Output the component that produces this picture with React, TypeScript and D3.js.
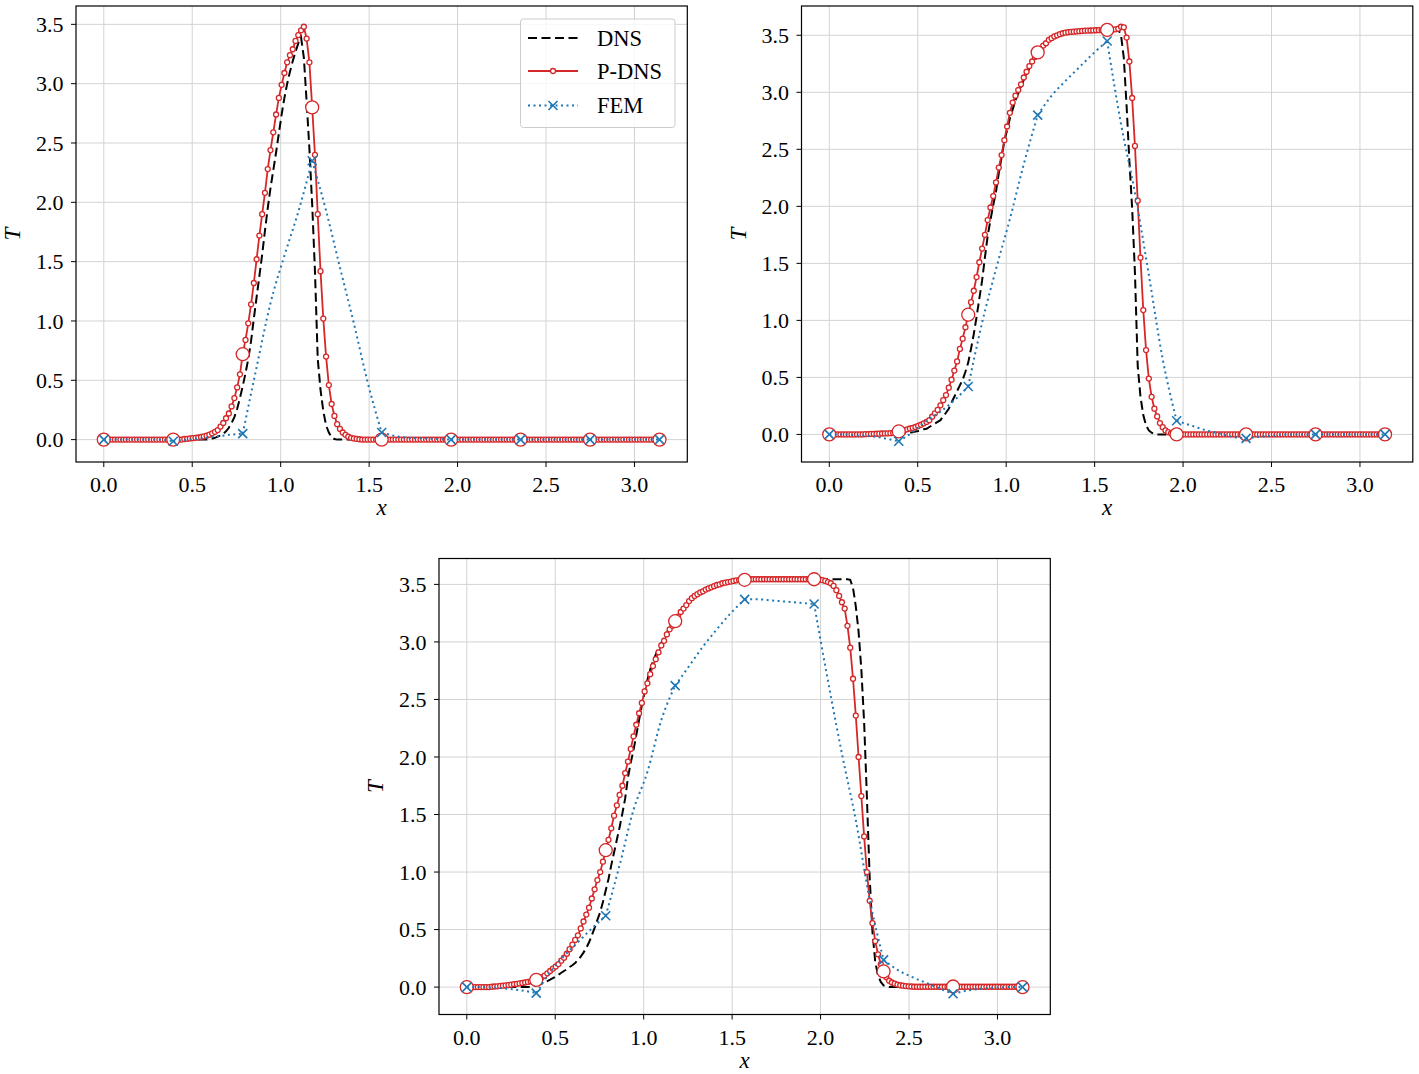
import React from "react";
import * as d3 from "d3";

// ---------- sampling grids (uniform solver grids on [0, pi]) ----------
const FINE_STEPS = 200;
const fineX: number[] = d3.range(FINE_STEPS + 1).map((i) => (i * Math.PI) / FINE_STEPS);
const femX: number[] = d3.range(41).map((j) => (j * Math.PI) / 40);
const nodeX: number[] = d3.range(9).map((k) => (k * Math.PI) / 8);

const xTicks = [0, 0.5, 1.0, 1.5, 2.0, 2.5, 3.0];
const yTicks = [0, 0.5, 1.0, 1.5, 2.0, 2.5, 3.0, 3.5];
const legendLabels = ["DNS", "P-DNS", "FEM"];

// ---------- panel 1 ----------
const p1Dns = [
  0,0,0,0,0,0,0,0,0,0,0,0,0,0,0,0,0,0,0,0,
  0,0,0,0,0,0,0,0,0,0,0,0,0,0,0,0,0,0,0.005,0.01,
  0.015,0.025,0.035,0.05,0.07,0.10,0.14,0.19,0.26,0.35,0.45,0.56,0.68,0.83,1.02,1.20,1.38,1.56,1.76,1.95,
  2.12,2.27,2.42,2.58,2.74,2.88,3.00,3.10,3.19,3.27,3.34,3.39,3.22,2.85,2.45,1.98,1.42,0.68,0.42,0.24,
  0.12,0.06,0.02,0.005,0,0,0,0,0,0,0,0,0,0,0,0,0,0,0,0,
  0,0,0,0,0,0,0,0,0,0,0,0,0,0,0,0,0,0,0,0,
  0,0,0,0,0,0,0,0,0,0,0,0,0,0,0,0,0,0,0,0,
  0,0,0,0,0,0,0,0,0,0,0,0,0,0,0,0,0,0,0,0,
  0,0,0,0,0,0,0,0,0,0,0,0,0,0,0,0,0,0,0,0,
  0,0,0,0,0,0,0,0,0,0,0,0,0,0,0,0,0,0,0,0,
  0,
];
const p1Pdns = [
  0,0,0,0,0,0,0,0,0,0,0,0,0,0,0,0,0,0,0,0,
  0,0,0,0,0,0,0,0,0,0.005,0.007,0.01,0.012,0.015,0.018,0.022,0.027,0.033,0.042,0.053,
  0.066,0.08,0.11,0.14,0.18,0.22,0.28,0.35,0.44,0.55,0.72,0.84,0.98,1.14,1.32,1.52,1.72,1.90,2.08,2.28,
  2.44,2.59,2.74,2.88,2.99,3.09,3.18,3.24,3.29,3.36,3.41,3.45,3.48,3.38,3.18,2.80,2.40,1.90,1.42,1.02,
  0.70,0.46,0.30,0.20,0.13,0.09,0.06,0.04,0.025,0.015,0.01,0.006,0.003,0,0,0,0,0,0,0,
  0,0,0,0,0,0,0,0,0,0,0,0,0,0,0,0,0,0,0,0,
  0,0,0,0,0,0,0,0,0,0,0,0,0,0,0,0,0,0,0,0,
  0,0,0,0,0,0,0,0,0,0,0,0,0,0,0,0,0,0,0,0,
  0,0,0,0,0,0,0,0,0,0,0,0,0,0,0,0,0,0,0,0,
  0,0,0,0,0,0,0,0,0,0,0,0,0,0,0,0,0,0,0,0,
  0,
];
const p1Fem = [
  0,0,0,0,0,
  -0.014,0,0.01,0.025,0.04,
  0.05,0.61,1.15,1.55,1.92,
  2.35,1.93,1.45,0.98,0.48,
  0.06,0.03,0.015,0.01,0.005,
  0,0,0,0,0,
  0,0,0,0,0,
  0,0,0,0,0,
  0,
];
const p1Nodes = [0, 0, 0.72, 2.80, 0, 0, 0, 0, 0];

// ---------- panel 2 ----------
const p2Dns = [
  0,0,0,0,0,0,0,0,0,0,0,0,0,0,0,0,0,0,0,0,
  0,0,0,0,0,0.005,0.008,0.01,0.013,0.016,0.02,0.025,0.03,0.038,0.045,0.05,0.065,0.08,0.095,0.11,
  0.125,0.16,0.19,0.225,0.28,0.33,0.38,0.43,0.48,0.55,0.63,0.75,0.88,1.03,1.19,1.35,1.55,1.74,1.88,2.01,
  2.13,2.29,2.43,2.57,2.67,2.77,2.85,2.93,2.99,3.05,3.11,3.16,3.21,3.26,3.30,3.34,3.38,3.41,3.43,3.45,
  3.47,3.485,3.50,3.51,3.518,3.523,3.527,3.53,3.532,3.534,3.536,3.538,3.54,3.541,3.542,3.543,3.544,3.545,3.546,3.546,
  3.547,3.548,3.549,3.55,3.55,3.50,3.30,2.88,2.40,1.98,1.42,0.60,0.33,0.17,0.08,0.035,0.015,0.005,0,0,
  0,0,0,0,0,0,0,0,0,0,0,0,0,0,0,0,0,0,0,0,
  0,0,0,0,0,0,0,0,0,0,0,0,0,0,0,0,0,0,0,0,
  0,0,0,0,0,0,0,0,0,0,0,0,0,0,0,0,0,0,0,0,
  0,0,0,0,0,0,0,0,0,0,0,0,0,0,0,0,0,0,0,0,
  0,
];
const p2Pdns = [
  0,0,0,0,0,0,0,0,0,0,0,0,0,0.002,0.003,0.004,0.005,0.006,0.007,0.008,
  0.009,0.01,0.011,0.013,0.018,0.026,0.03,0.037,0.045,0.052,0.058,0.065,0.075,0.085,0.097,0.11,0.125,0.155,0.185,0.215,
  0.255,0.30,0.345,0.41,0.48,0.56,0.64,0.75,0.84,0.94,1.05,1.16,1.26,1.38,1.51,1.63,1.75,1.88,1.99,2.09,
  2.21,2.34,2.45,2.58,2.70,2.82,2.91,2.97,3.02,3.07,3.13,3.18,3.23,3.27,3.31,3.35,3.38,3.41,3.43,3.46,
  3.475,3.49,3.50,3.51,3.518,3.523,3.527,3.53,3.532,3.534,3.536,3.538,3.54,3.541,3.542,3.543,3.544,3.545,3.546,3.546,
  3.547,3.548,3.55,3.552,3.558,3.575,3.57,3.48,3.27,2.95,2.53,2.05,1.55,1.09,0.74,0.49,0.33,0.226,0.158,0.10,
  0.064,0.035,0.02,0.01,0.005,0,0,0,0,0,0,0,0,0,0,0,0,0,0,0,
  0,0,0,0,0,0,0,0,0,0,0,0,0,0,0,0,0,0,0,0,
  0,0,0,0,0,0,0,0,0,0,0,0,0,0,0,0,0,0,0,0,
  0,0,0,0,0,0,0,0,0,0,0,0,0,0,0,0,0,0,0,0,
  0,
];
const p2Fem = [
  0,0,-0.008,-0.015,-0.035,
  -0.06,0.02,0.12,0.20,0.30,
  0.42,0.98,1.45,1.89,2.37,
  2.80,2.97,3.10,3.22,3.34,
  3.45,2.72,2.12,1.40,0.66,
  0.12,0.08,0.04,0.01,-0.02,
  -0.035,-0.02,-0.01,0,0,
  0,0,0,0,0,
  0,
];
const p2Nodes = [0, 0.026, 1.05, 3.35, 3.547, 0, 0, 0, 0];

// ---------- panel 3 ----------
const p3Dns = [
  0,0,0,0,0,0,0,0,0,0,0,0,0,0,0,0,0,0,0,0,
  0,0,0,0.003,0.008,0.015,0.022,0.03,0.04,0.052,0.064,0.077,0.09,0.107,0.125,0.14,0.155,0.175,0.19,0.21,
  0.235,0.265,0.30,0.34,0.39,0.45,0.515,0.585,0.65,0.74,0.84,0.94,1.06,1.17,1.28,1.39,1.51,1.64,1.82,1.95,
  2.06,2.19,2.32,2.45,2.56,2.67,2.76,2.83,2.89,2.95,2.99,3.04,3.08,3.12,3.155,3.18,3.22,3.26,3.29,3.32,
  3.355,3.38,3.40,3.415,3.43,3.44,3.455,3.465,3.475,3.485,3.495,3.50,3.51,3.515,3.52,3.525,3.53,3.535,3.538,3.54,
  3.545,3.545,3.545,3.545,3.545,3.545,3.545,3.545,3.545,3.545,3.545,3.545,3.545,3.545,3.545,3.545,3.545,3.545,3.545,3.545,
  3.545,3.545,3.545,3.545,3.545,3.545,3.545,3.545,3.545,3.545,3.545,3.545,3.545,3.545,3.545,3.545,3.545,3.545,3.54,3.47,
  3.31,3.09,2.76,2.30,1.65,0.95,0.48,0.22,0.10,0.045,0.015,0.005,0,0,0,0,0,0,0,0,
  0,0,0,0,0,0,0,0,0,0,0,0,0,0,0,0,0,0,0,0,
  0,0,0,0,0,0,0,0,0,0,0,0,0,0,0,0,0,0,0,0,
  0,
];
const p3Pdns = [
  0,0,0,0,0,0,0,0,0,0.003,0.005,0.007,0.01,0.012,0.015,0.018,0.021,0.025,0.028,0.032,
  0.036,0.04,0.045,0.05,0.056,0.063,0.072,0.085,0.10,0.12,0.14,0.16,0.18,0.20,0.23,0.255,0.29,0.33,0.37,0.41,
  0.45,0.51,0.57,0.63,0.69,0.77,0.85,0.93,1.00,1.09,1.19,1.28,1.38,1.49,1.58,1.67,1.75,1.86,1.96,2.07,
  2.18,2.28,2.38,2.47,2.57,2.64,2.72,2.79,2.85,2.91,2.97,3.01,3.065,3.11,3.14,3.18,3.22,3.26,3.29,3.32,
  3.355,3.38,3.40,3.415,3.43,3.44,3.455,3.465,3.475,3.485,3.495,3.50,3.51,3.515,3.52,3.525,3.53,3.535,3.538,3.54,
  3.54,3.545,3.545,3.545,3.545,3.545,3.545,3.545,3.545,3.545,3.545,3.545,3.545,3.545,3.545,3.545,3.545,3.545,3.545,3.545,
  3.545,3.545,3.545,3.545,3.545,3.545,3.545,3.542,3.537,3.53,3.52,3.51,3.487,3.45,3.40,3.345,3.29,3.14,2.95,2.68,
  2.36,2.00,1.66,1.31,1.00,0.75,0.556,0.40,0.285,0.20,0.136,0.085,0.055,0.04,0.03,0.022,0.016,0.012,0.009,0.007,
  0.005,0.003,0.003,0.003,0.003,0.003,0.003,0.003,0.003,0.003,0.003,0.003,0.003,0.003,0.003,0.003,0.003,0.003,0.003,0.003,
  0.003,0.003,0.003,0.003,0.003,0.003,0.003,0.003,0.003,0.003,0.003,0.003,0.003,0.003,0.003,0.003,0.003,0.003,0.003,0.003,
  0,
];
const p3Fem = [
  0,0,-0.005,-0.015,-0.03,
  -0.052,0.13,0.27,0.39,0.51,
  0.62,1.06,1.54,1.87,2.32,
  2.62,2.79,2.96,3.11,3.25,
  3.37,3.37,3.36,3.35,3.34,
  3.33,2.66,2.03,1.45,0.76,
  0.237,0.15,0.09,0.04,-0.01,
  -0.058,-0.03,-0.015,-0.005,0,
  0,
];
const p3Nodes = [0, 0.063, 1.19, 3.18, 3.54, 3.545, 0.136, 0.005, 0];

// ---------- styling ----------
const RED = "#d62728";
const BLUE = "#1f77b4";
const GRID = "#d3d3d3";
const FONT = "'Liberation Serif', 'Times New Roman', Times, serif";
const TICK_FS = 22;
const LABEL_FS = 23;

type Box = { left: number; right: number; top: number; bottom: number };
type Pt = [number, number];

function XMark({ cx, cy, s = 4.5 }: { cx: number; cy: number; s?: number }) {
  return (
    <path
      d={`M${cx - s},${cy - s}L${cx + s},${cy + s}M${cx - s},${cy + s}L${cx + s},${cy - s}`}
      stroke={BLUE}
      strokeWidth={1.6}
      fill="none"
    />
  );
}

function Legend() {
  const bx = 520.5, by = 19, bw = 154.5, bh = 108.5;
  const x0 = 528, x1 = 578, xm = 553, tx = 597;
  const rows = [38, 71, 105.5];
  return (
    <g>
      <rect x={bx} y={by} width={bw} height={bh} rx={3} fill="#ffffff" fillOpacity={0.8} stroke="#cccccc" strokeWidth={1} />
      <line x1={x0} x2={x1} y1={rows[0]} y2={rows[0]} stroke="#000" strokeWidth={2} strokeDasharray="9 4.5" />
      <line x1={x0} x2={x1} y1={rows[1]} y2={rows[1]} stroke={RED} strokeWidth={1.8} />
      <circle cx={xm} cy={rows[1]} r={2.5} fill="#fff" stroke={RED} strokeWidth={1.3} />
      <line x1={x0} x2={x1} y1={rows[2]} y2={rows[2]} stroke={BLUE} strokeWidth={2} strokeDasharray="2 3.5" />
      <XMark cx={xm} cy={rows[2]} />
      {legendLabels.map((t, i) => (
        <text key={t} x={tx} y={rows[i]} dy="0.35em" fontFamily={FONT} fontSize={22.5} fill="#000">
          {t}
        </text>
      ))}
    </g>
  );
}

function Panel({
  box, dns, pdns, fem, nodes, legend, id,
}: {
  box: Box; dns: number[]; pdns: number[]; fem: number[]; nodes: number[]; legend?: boolean; id: string;
}) {
  const x = d3.scaleLinear().domain([-0.05 * Math.PI, 1.05 * Math.PI]).range([box.left, box.right]);
  const all = [...dns, ...pdns, ...fem, ...nodes];
  const lo = d3.min(all) as number;
  const hi = d3.max(all) as number;
  const pad = 0.05 * (hi - lo);
  const y = d3.scaleLinear().domain([lo - pad, hi + pad]).range([box.bottom, box.top]);

  const line = d3.line<Pt>().x((d) => x(d[0])).y((d) => y(d[1]));
  const dnsPts: Pt[] = dns.map((v, i) => [fineX[i], v]);
  const pdnsPts: Pt[] = pdns.map((v, i) => [fineX[i], v]);
  const femPts: Pt[] = fem.map((v, j) => [femX[j], v]);
  const nodePts: Pt[] = nodes.map((v, k) => [nodeX[k], v]);
  const femNodes: Pt[] = femPts.filter((_, j) => j % 5 === 0);

  const femLine = d3.line<Pt>().x((d) => x(d[0])).y((d) => y(d[1])).curve(d3.curveMonotoneX);
  const femPath = d3.range(8).map((e) => femLine(femPts.slice(e * 5, e * 5 + 6))).join("");

  const midX = (box.left + box.right) / 2;
  const midY = (box.top + box.bottom) / 2;

  return (
    <g>
      <defs>
        <clipPath id={id}>
          <rect x={box.left} y={box.top} width={box.right - box.left} height={box.bottom - box.top} />
        </clipPath>
      </defs>
      <rect x={box.left} y={box.top} width={box.right - box.left} height={box.bottom - box.top} fill="#fff" />
      {/* grid */}
      {xTicks.map((t) => (
        <line key={"gx" + t} x1={x(t)} x2={x(t)} y1={box.top} y2={box.bottom} stroke={GRID} strokeWidth={1} />
      ))}
      {yTicks.map((t) => (
        <line key={"gy" + t} x1={box.left} x2={box.right} y1={y(t)} y2={y(t)} stroke={GRID} strokeWidth={1} />
      ))}
      <g clipPath={`url(#${id})`}>
        {/* DNS */}
        <path d={line(dnsPts) || ""} fill="none" stroke="#000" strokeWidth={2} strokeDasharray="9 4.5" />
        {/* P-DNS */}
        <path d={line(pdnsPts) || ""} fill="none" stroke={RED} strokeWidth={1.8} />
        {pdnsPts.map((d, i) => (
          <circle key={"pm" + i} cx={x(d[0])} cy={y(d[1])} r={2.5} fill="#fff" stroke={RED} strokeWidth={1.3} />
        ))}
        {nodePts.map((d, i) => (
          <circle key={"nm" + i} cx={x(d[0])} cy={y(d[1])} r={6.5} fill="#fff" stroke={RED} strokeWidth={1.3} />
        ))}
        {/* FEM */}
        <path d={femPath} fill="none" stroke={BLUE} strokeWidth={2} strokeDasharray="2 3.5" />
        {femNodes.map((d, i) => (
          <XMark key={"fx" + i} cx={x(d[0])} cy={y(d[1])} />
        ))}
      </g>
      {/* frame */}
      <rect x={box.left} y={box.top} width={box.right - box.left} height={box.bottom - box.top} fill="none" stroke="#000" strokeWidth={1.2} />
      {/* ticks */}
      {xTicks.map((t) => (
        <g key={"tx" + t}>
          <line x1={x(t)} x2={x(t)} y1={box.bottom} y2={box.bottom + 5} stroke="#000" strokeWidth={1} />
          <text x={x(t)} y={box.bottom + 30} textAnchor="middle" fontFamily={FONT} fontSize={TICK_FS} fill="#000">
            {t.toFixed(1)}
          </text>
        </g>
      ))}
      {yTicks.map((t) => (
        <g key={"ty" + t}>
          <line x1={box.left - 5} x2={box.left} y1={y(t)} y2={y(t)} stroke="#000" strokeWidth={1} />
          <text x={box.left - 12.5} y={y(t)} dy="0.35em" textAnchor="end" fontFamily={FONT} fontSize={TICK_FS} fill="#000">
            {t.toFixed(1)}
          </text>
        </g>
      ))}
      {/* axis labels */}
      <text x={midX} y={box.bottom + 53} textAnchor="middle" fontFamily={FONT} fontStyle="italic" fontSize={LABEL_FS} fill="#000">
        x
      </text>
      <text
        transform={`translate(${box.left - 56},${midY}) rotate(-90)`}
        textAnchor="middle"
        fontFamily={FONT}
        fontStyle="italic"
        fontSize={LABEL_FS}
        fill="#000"
      >
        T
      </text>
      {legend ? <Legend /> : null}
    </g>
  );
}

export default function App() {
  return (
    <svg
      width={1419}
      height={1074}
      viewBox="0 0 1419 1074"
      style={{ position: "absolute", left: 0, top: 0, display: "block", background: "#fff" }}
    >
      <rect x={0} y={0} width={1419} height={1074} fill="#fff" />
      <Panel id="c1" box={{ left: 76, right: 687.3, top: 6, bottom: 462 }} dns={p1Dns} pdns={p1Pdns} fem={p1Fem} nodes={p1Nodes} legend />
      <Panel id="c2" box={{ left: 801.5, right: 1412.8, top: 6, bottom: 462 }} dns={p2Dns} pdns={p2Pdns} fem={p2Fem} nodes={p2Nodes} />
      <Panel id="c3" box={{ left: 439, right: 1050.3, top: 558.5, bottom: 1014.5 }} dns={p3Dns} pdns={p3Pdns} fem={p3Fem} nodes={p3Nodes} />
    </svg>
  );
}
